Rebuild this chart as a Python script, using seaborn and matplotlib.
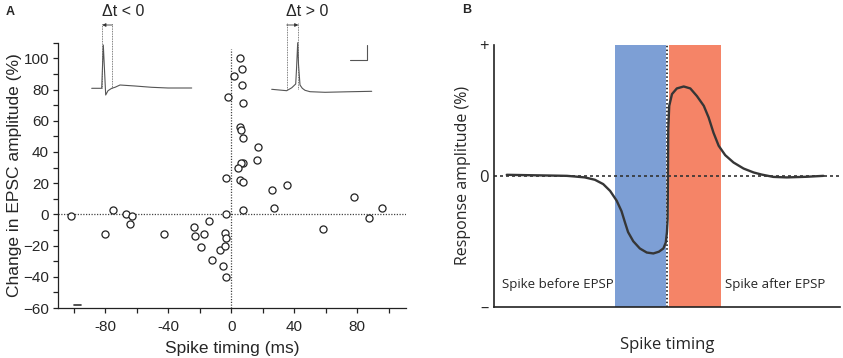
import numpy as np
import pandas as pd
import seaborn as sns
import matplotlib.pyplot as plt
from matplotlib.ticker import FixedLocator

# ---- panel A data: spike timing vs change in EPSC amplitude ----
timing_ms = [-102, -80, -75, -67, -63, -64, -43, -23.5, -23.3, -17, -14.2, -19, -12,
             -7.2, -4.9, -3.6, -4.2, -3.6, -4.2, -3.2, -3, -2.1,
             5.3, 6.8, 1.7, 7, 7.4, 5.3, 6.5, 7.2, 16.9, 16.5, 7.8, 6.3, 4.2,
             5.3, 7.4, 26.2, 35.6, 26.9, 7.6, 77.7, 96, 87.2, 58]
change_pct = [-1, -12.5, 2.8, 0.2, -0.9, -6.4, -12.4, -8.2, -14, -12.4, -4, -21, -29.3,
              -22.7, -33, -40, -12.2, -15, -20.3, 0.5, 23.5, 75.5,
              100.3, 93.3, 88.6, 83, 71.4, 55.8, 54.1, 48.8, 43, 35, 33.1, 32.7, 29.9,
              21.8, 20.7, 15.6, 18.8, 3.8, 2.5, 11.1, 4.3, -2.6, -9.6]
x_ticks_a = list(range(-100, 101, 20))
x_labels_a = ['' if t % 40 else str(t) for t in x_ticks_a]

# inset traces (ms, arbitrary mV)
pre_t = [0, 10, 11.6, 14, 16.3, 20, 23.3, 28.3, 43.3, 60, 76.3, 100]
pre_v = [0, 0, 43.3, -6.7, -2.4, 0, 1, 3.3, 2.3, 1, 0.3, 0.3]
pre_marks = [10.6, 20.6]
post_t = [0, 15, 20, 24, 24.8, 26, 26.8, 28.3, 30.6, 33.3, 38.3, 53.3, 75, 100]
post_v = [0, -1.4, 1.5, 5.3, 20, 46.6, 25, 4.3, 1, -1, -2.4, -3, -2.5, -2]
post_marks = [15, 26.6]
scale_t = [78.3, 95, 95]
scale_v = [29.3, 29.3, 44.3]

# ---- panel B data: schematic STDP curve ----
b_x = [-46.4, -40, -33, -29, -26.7, -23.8, -20.9, -18.5, -16.5, -14.6, -13.2, -12.2, -11.3,
       -9.8, -7.9, -5.9, -4.0, -2.4, -1.1, -0.4, -0.06, 0.14, 0.23, 0.32, 0.6, 1.4, 2.8,
       4.8, 6.7, 8.6, 10.6, 12.0, 13.4, 14.9, 16.8, 19.2, 22.1, 25.0, 27.3, 30.7, 34.6,
       40.4, 45.2]
b_y = [0.008, 0.005, 0.002, 0, -0.005, -0.012, -0.03, -0.063, -0.115, -0.19, -0.27, -0.356,
       -0.43, -0.50, -0.555, -0.586, -0.593, -0.58, -0.555, -0.51, -0.43, -0.33, 0, 0.357,
       0.535, 0.625, 0.668, 0.683, 0.668, 0.61, 0.535, 0.446, 0.33, 0.23, 0.158, 0.102,
       0.056, 0.026, 0.01, -0.008, -0.012, -0.007, 0]
blue_span = (-15, 0)
red_span = (0, 15.5)

sns.set_style('ticks')
plt.rcParams['font.family'] = ['Liberation Sans', 'DejaVu Sans']
plt.rcParams['axes.edgecolor'] = '#222222'

fig = plt.figure(figsize=(8.43, 3.58), dpi=100)

# ---------------- panel A ----------------
ax1 = fig.add_axes([58 / 843, 50 / 358, 348 / 843, 265.3 / 358])
ax1.axhline(0, color='#444444', ls=(0, (1, 1.2)), lw=0.9, zorder=1)
ax1.plot([0, 0], [-60, 106], color='#444444', ls=(0, (1, 1.2)), lw=0.9, zorder=1)
df_a = pd.DataFrame({'timing': timing_ms, 'change': change_pct})
sns.scatterplot(data=df_a, x='timing', y='change', ax=ax1, marker='o', s=26,
                facecolor='white', edgecolor='#222222', linewidth=0.9, zorder=3)
ax1.plot([-100, -95.5], [-57.8, -57.8], color='#333333', lw=1.2)
ax1.set_xlim(-110, 111)
ax1.set_ylim(-60, 110)
ax1.xaxis.set_major_locator(FixedLocator(x_ticks_a))
ax1.set_xticklabels(x_labels_a)
ax1.yaxis.set_major_locator(FixedLocator(list(range(-60, 101, 20))))
ax1.yaxis.set_minor_locator(FixedLocator(list(range(-50, 111, 20))))
ax1.tick_params(axis='both', which='both', direction='out', length=3.5, width=0.9,
                color='#222222', labelsize=11, pad=3)
ax1.tick_params(axis='x', pad=5)
sns.despine(ax=ax1)
for sp in ['left', 'bottom']:
    ax1.spines[sp].set_linewidth(0.9)
ax1.set_xlabel('Spike timing (ms)', fontsize=12.5, labelpad=5)
ax1.set_ylabel('Change in EPSC amplitude (%)', fontsize=12.5, labelpad=1)

# inset traces
def trace_inset(box, t, v, marks, xlim, ylim, direction):
    ax = fig.add_axes(box)
    ax.plot(t, v, color='#555555', lw=0.8)
    top = ylim[1] - 8
    for m in marks:
        ax.plot([m, m], [0, top], color='#555555', ls=(0, (1, 1)), lw=0.6)
    a, b = marks if direction > 0 else marks[::-1]
    ax.annotate('', xy=(b, top - 2), xytext=(a, top - 2),
                arrowprops=dict(arrowstyle='-|>', color='#333333', lw=0.6,
                                mutation_scale=5, shrinkA=0, shrinkB=0))
    ax.set_xlim(*xlim)
    ax.set_ylim(*ylim)
    ax.axis('off')
    return ax

trace_inset([88 / 843, 258 / 358, 108 / 843, 85 / 358], pre_t, pre_v, pre_marks,
            (-3.7, 104.3), (-11.7, 73.3), -1)
axr = trace_inset([268 / 843, 258 / 358, 108 / 843, 85 / 358], post_t, post_v, post_marks,
                  (-3.7, 104.3), (-10.7, 74.3), 1)
axr.plot(scale_t, scale_v, color='#555555', lw=0.8)

fig.text(123 / 843, 1 - 12 / 358, '\u0394t < 0', ha='center', va='center', fontsize=11.5)
fig.text(307 / 843, 1 - 12 / 358, '\u0394t > 0', ha='center', va='center', fontsize=11.5)
fig.text(10 / 843, 1 - 12 / 358, 'A', ha='center', va='center', fontsize=9, fontweight='bold')
fig.text(467 / 843, 1 - 10 / 358, 'B', ha='center', va='center', fontsize=9, fontweight='bold')

# ---------------- panel B ----------------
bfont = ['Open Sans', 'DejaVu Sans']
ax2 = fig.add_axes([494.3 / 843, 51.3 / 358, 345.7 / 843, 261.7 / 358])
ax2.axvspan(*blue_span, color='#7d9fd5', lw=0, zorder=0)
ax2.axvspan(*red_span, color='#f58467', lw=0, zorder=0)
ax2.axvline(0, color='white', lw=2.2, zorder=1)
ax2.axvline(0, color='black', ls=(0, (1, 1.5)), lw=1.1, zorder=2)
ax2.axhline(0, color='#333333', ls=(0, (1.8, 1.8)), lw=1.2, zorder=2)
df_b = pd.DataFrame({'timing': b_x, 'amp': b_y})
sns.lineplot(data=df_b, x='timing', y='amp', ax=ax2, color='#363636', lw=1.7,
             sort=False, estimator=None, zorder=3)
ax2.set_xlim(-50, 50)
ax2.set_ylim(-1, 1)
ax2.set_xticks([])
ax2.set_yticks([-1, 0, 1])
ax2.set_yticklabels(['\u2013', '0', '+'], fontsize=12, family=bfont)
ax2.tick_params(axis='y', length=0, pad=4)
sns.despine(ax=ax2)
for sp in ['left', 'bottom']:
    ax2.spines[sp].set_linewidth(1.2)
ax2.set_xlabel('Spike timing', fontsize=12, family=bfont, labelpad=22)
ax2.set_ylabel('Response amplitude (%)', fontsize=11.5, family=bfont, labelpad=6)
ax2.text(-47.8, -0.83, 'Spike before EPSP', fontsize=9.5, family=bfont, va='center', ha='left')
ax2.text(45.7, -0.83, 'Spike after EPSP', fontsize=9.5, family=bfont, va='center', ha='right')

fig.savefig('out.png', dpi=100)
